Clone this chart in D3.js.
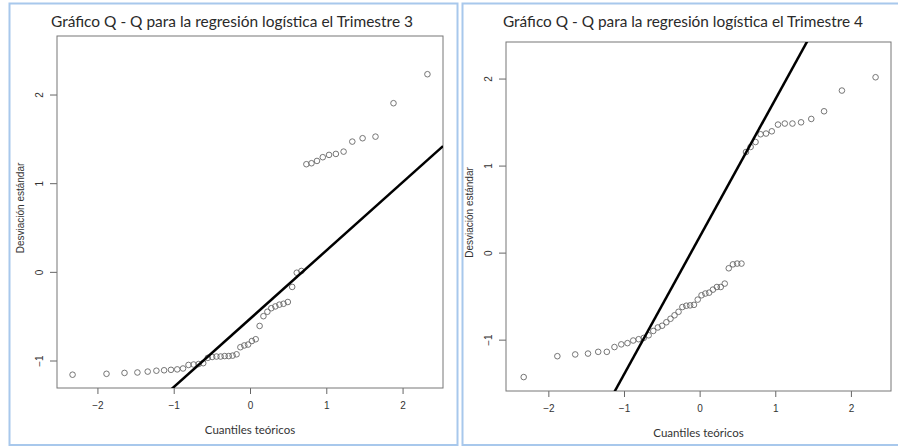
<!DOCTYPE html>
<html>
<head>
<meta charset="utf-8">
<script src="https://cdn.jsdelivr.net/npm/d3@7"></script>
<style>
  body { margin: 0; background: #fff; }
  svg { display: block; }
  .tick text { font-family: "Liberation Sans", Arial, sans-serif; font-size: 10px; fill: #333; }
  .tick line { stroke: #666; }
  .domain { stroke: none; }
</style>
</head>
<body>
<svg id="chart"></svg>
<script>
// theoretical quantiles (x), 50 points per panel
const theoreticalQuantiles = [
  -2.326, -1.881, -1.645, -1.476, -1.341, -1.227, -1.126, -1.036, -0.954, -0.878,
  -0.806, -0.739, -0.674, -0.613, -0.553, -0.496, -0.440, -0.385, -0.332, -0.279,
  -0.228, -0.176, -0.126, -0.075, -0.025, 0.025, 0.075, 0.126, 0.176, 0.228,
  0.279, 0.332, 0.385, 0.440, 0.496, 0.553, 0.613, 0.674, 0.739, 0.806,
  0.878, 0.954, 1.036, 1.126, 1.227, 1.341, 1.476, 1.645, 1.881, 2.326
];

// standardised residuals, Trimestre 3
const residualsT3 = [
  -1.16, -1.15, -1.14, -1.135, -1.125, -1.115, -1.11, -1.105, -1.10, -1.09,
  -1.05, -1.045, -1.04, -1.03, -0.97, -0.96, -0.955, -0.955, -0.95, -0.95,
  -0.945, -0.93, -0.85, -0.83, -0.82, -0.78, -0.76, -0.61, -0.50, -0.45,
  -0.41, -0.39, -0.37, -0.36, -0.34, -0.17, -0.01, 0.01, 1.214, 1.225,
  1.251, 1.293, 1.319, 1.330, 1.356, 1.469, 1.507, 1.525, 1.902, 2.229
];

// standardised residuals, Trimestre 4
const residualsT4 = [
  -1.43, -1.19, -1.17, -1.16, -1.14, -1.14, -1.085, -1.054, -1.04, -1.01,
  -0.995, -0.98, -0.95, -0.90, -0.86, -0.84, -0.80, -0.76, -0.72, -0.68,
  -0.625, -0.61, -0.606, -0.60, -0.54, -0.49, -0.47, -0.46, -0.425, -0.395,
  -0.395, -0.356, -0.18, -0.135, -0.126, -0.126, 1.156, 1.214, 1.271, 1.36,
  1.368, 1.394, 1.471, 1.483, 1.483, 1.497, 1.536, 1.624, 1.862, 2.015
];

// reference lines (intercept, slope)
const lineT3 = { intercept: -0.53, slope: 0.77 };
const lineT4 = { intercept: 0.18, slope: 1.58 };

const xTicks = [-2, -1, 0, 1, 2];
const yTicks = [-1, 0, 1, 2];

const titles = [
  "Gráfico Q - Q para la regresión logística el Trimestre 3",
  "Gráfico Q - Q para la regresión logística el Trimestre 4"
];
const xLabel = "Cuantiles teóricos";
const yLabel = "Desviación estándar";

const W = 898, H = 447;
const svg = d3.select("#chart").attr("width", W).attr("height", H);
const fmt = d3.format("d");

const panels = [
  {
    frame: { x: 9.5, y: 3.5, w: 448, h: 441.5 },
    box: { x0: 57, x1: 443, y0: 36, y1: 388 },
    xDomain: [-2.53, 2.53], yDomain: [-1.31, 2.66],
    title: titles[0], titleX: 232, titleLen: 362,
    values: residualsT3, line: lineT3
  },
  {
    frame: { x: 462.5, y: 3.5, w: 460, h: 441.5 },
    box: { x0: 506, x1: 891, y0: 42, y1: 391 },
    xDomain: [-2.56, 2.53], yDomain: [-1.59, 2.42],
    title: titles[1], titleX: 683, titleLen: 360,
    values: residualsT4, line: lineT4
  }
];

panels.forEach((p, k) => {
  const g = svg.append("g");

  g.append("rect")
    .attr("x", p.frame.x).attr("y", p.frame.y)
    .attr("width", p.frame.w).attr("height", p.frame.h)
    .attr("fill", "none")
    .attr("stroke", "#a8c8ec")
    .attr("stroke-width", 2);

  g.append("text")
    .attr("x", p.titleX).attr("y", 27)
    .attr("text-anchor", "middle")
    .attr("textLength", p.titleLen)
    .attr("lengthAdjust", "spacingAndGlyphs")
    .style("font-family", "Lato, 'Open Sans', sans-serif")
    .style("font-size", "16px")
    .style("fill", "#2a2a2a")
    .text(p.title);

  const x = d3.scaleLinear().domain(p.xDomain).range([p.box.x0, p.box.x1]);
  const y = d3.scaleLinear().domain(p.yDomain).range([p.box.y1, p.box.y0]);

  // x axis
  const xAxis = d3.axisBottom(x).tickValues(xTicks).tickFormat(fmt).tickSize(6).tickPadding(8);
  g.append("g")
    .attr("transform", `translate(0, ${p.box.y1})`)
    .call(xAxis);

  // y axis, labels rotated like base R
  const yAxis = d3.axisLeft(y).tickValues(yTicks).tickFormat(fmt).tickSize(7);
  const yg = g.append("g")
    .attr("transform", `translate(${p.box.x0}, 0)`)
    .call(yAxis);
  yg.selectAll(".tick text")
    .attr("x", null).attr("dy", null)
    .attr("text-anchor", "middle")
    .attr("transform", "translate(-14, 0) rotate(-90)");

  // box
  g.append("rect")
    .attr("x", p.box.x0).attr("y", p.box.y0)
    .attr("width", p.box.x1 - p.box.x0).attr("height", p.box.y1 - p.box.y0)
    .attr("fill", "none")
    .attr("stroke", "#777")
    .attr("stroke-width", 1);

  g.append("text")
    .attr("x", (p.box.x0 + p.box.x1) / 2).attr("y", p.box.y1 + 46)
    .attr("text-anchor", "middle")
    .style("font-family", "Lato, 'Open Sans', sans-serif")
    .style("font-size", "11.5px")
    .style("fill", "#333")
    .text(xLabel);

  g.append("text")
    .attr("transform", `translate(${p.box.x0 - 33}, ${(p.box.y0 + p.box.y1) / 2 - 4}) rotate(-90)`)
    .attr("text-anchor", "middle")
    .style("font-family", "'Liberation Sans', Arial, sans-serif")
    .style("font-size", "10px")
    .style("fill", "#333")
    .text(yLabel);

  // clip for the reference line
  const clipId = `clip${k}`;
  g.append("clipPath").attr("id", clipId)
    .append("rect")
    .attr("x", p.box.x0).attr("y", p.box.y0)
    .attr("width", p.box.x1 - p.box.x0).attr("height", p.box.y1 - p.box.y0);

  const pts = theoreticalQuantiles.map((q, i) => ({ q, v: p.values[i] }));

  g.append("g")
    .selectAll("circle")
    .data(pts)
    .join("circle")
    .attr("cx", d => x(d.q))
    .attr("cy", d => y(d.v))
    .attr("r", 2.8)
    .attr("fill", "none")
    .attr("stroke", "#666")
    .attr("stroke-width", 0.9);

  const ends = p.xDomain.map(q => ({ q, v: p.line.intercept + p.line.slope * q }));
  g.append("path")
    .attr("clip-path", `url(#${clipId})`)
    .attr("d", d3.line().x(d => x(d.q)).y(d => y(d.v))(ends))
    .attr("fill", "none")
    .attr("stroke", "#000")
    .attr("stroke-width", 2.5);
});
</script>
</body>
</html>
